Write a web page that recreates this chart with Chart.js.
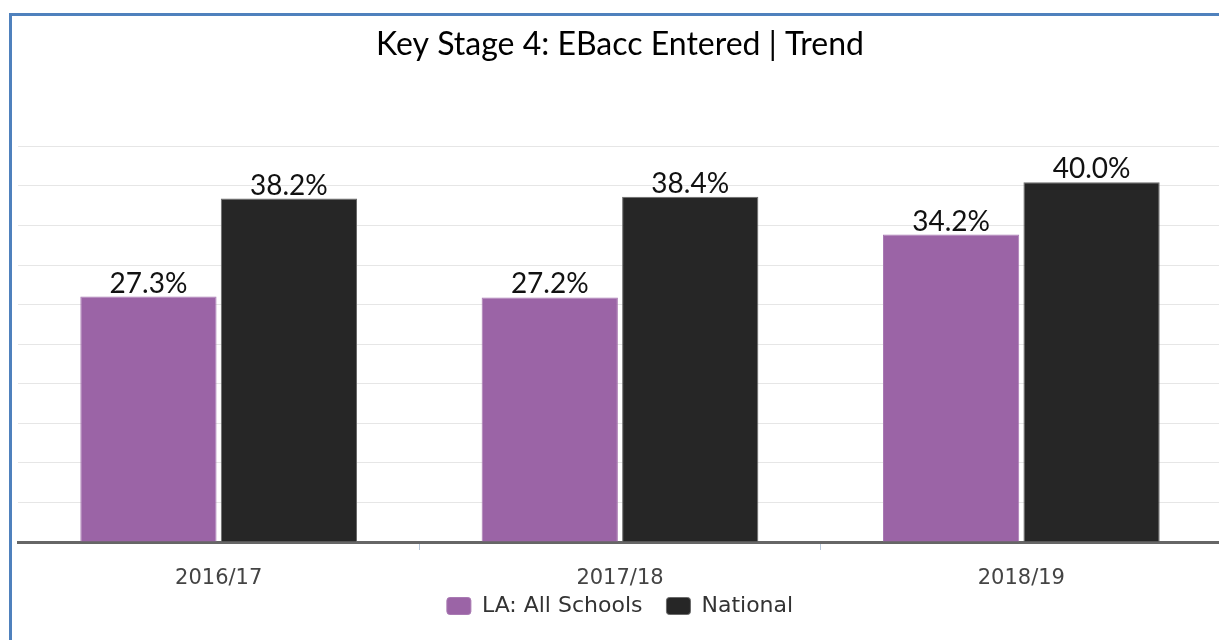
<!DOCTYPE html>
<html lang="en">
<head>
<meta charset="UTF-8">
<title>Key Stage 4: EBacc Entered | Trend</title>
<script src="https://cdn.jsdelivr.net/npm/chart.js"></script>
<style>
  html, body { margin: 0; padding: 0; background: #fff; overflow: hidden; }
  #frame {
    position: absolute; left: 9px; top: 13px; width: 1300px; height: 700px;
    border-left: 3px solid #4f81bd; border-top: 3px solid #4f81bd;
  }
  #wrap { position: absolute; left: 0; top: 0; width: 1222px; height: 640px; }
</style>
</head>
<body>
<div id="frame"></div>
<div id="wrap"><canvas id="chart"></canvas></div>
<script>
// chart data
const categories = ['2016/17', '2017/18', '2018/19'];
const laValues = [27.3, 27.2, 34.2];
const nationalValues = [38.2, 38.4, 40.0];
const seriesNames = ['LA: All Schools', 'National'];

// draws the % value above each bar
const valueLabels = {
  id: 'valueLabels',
  afterDatasetsDraw(chart) {
    const ctx = chart.ctx;
    ctx.save();
    ctx.font = '28px Lato, "Noto Sans", sans-serif';
    ctx.fillStyle = '#111';
    ctx.textAlign = 'center';
    ctx.textBaseline = 'alphabetic';
    chart.data.datasets.forEach((ds, i) => {
      chart.getDatasetMeta(i).data.forEach((bar, j) => {
        ctx.fillText(ds.data[j].toFixed(1) + '%', bar.x, bar.y - 4);
      });
    });
    ctx.restore();
  }
};

new Chart(document.getElementById('chart'), {
  type: 'bar',
  data: {
    labels: categories,
    datasets: [
      {
        label: seriesNames[0],
        data: laValues,
        backgroundColor: '#9b64a6',
        borderColor: '#a97ab3',
        borderWidth: 1,
        barPercentage: 0.97,
        categoryPercentage: 0.7
      },
      {
        label: seriesNames[1],
        data: nationalValues,
        backgroundColor: '#262626',
        borderColor: '#6a6a6a',
        borderWidth: 1,
        barPercentage: 0.97,
        categoryPercentage: 0.7
      }
    ]
  },
  options: {
    responsive: true,
    maintainAspectRatio: false,
    animation: false,
    layout: { padding: { left: 18, right: 0, top: 0, bottom: 13 } },
    plugins: {
      title: {
        display: true,
        text: 'Key Stage 4: EBacc Entered | Trend',
        color: '#000',
        font: { family: 'Lato, "Noto Sans", sans-serif', size: 32, weight: 'normal' },
        padding: { top: 25, bottom: 83 }
      },
      legend: {
        position: 'bottom',
        labels: {
          color: '#333',
          font: { family: '"DejaVu Sans", sans-serif', size: 22 },
          boxWidth: 24,
          boxHeight: 17,
          useBorderRadius: true,
          borderRadius: 3,
          padding: 3,
          // extra space after the first item, like the original legend
          generateLabels: (chart) => {
            const items = Chart.defaults.plugins.legend.labels.generateLabels(chart);
            if (items.length) items[0].text += '   ';
            return items;
          }
        }
      },
      tooltip: { enabled: false }
    },
    scales: {
      x: {
        afterFit: (s) => { s.height = 50; },
        grid: {
          display: true,
          drawOnChartArea: false,
          offset: true,
          tickLength: 8,
          color: (c) => (c.index === 0 ? 'rgba(0,0,0,0)' : '#b8c7da')
        },
        border: { color: '#666', width: 3 },
        ticks: {
          color: '#444',
          padding: 16,
          font: { family: '"DejaVu Sans", sans-serif', size: 21 }
        }
      },
      y: {
        min: 0,
        max: 44,
        ticks: { display: false, stepSize: 4.4 },
        grid: { color: '#e6e6e6', drawTicks: false },
        border: { display: false }
      }
    }
  },
  plugins: [valueLabels]
});
</script>
</body>
</html>
